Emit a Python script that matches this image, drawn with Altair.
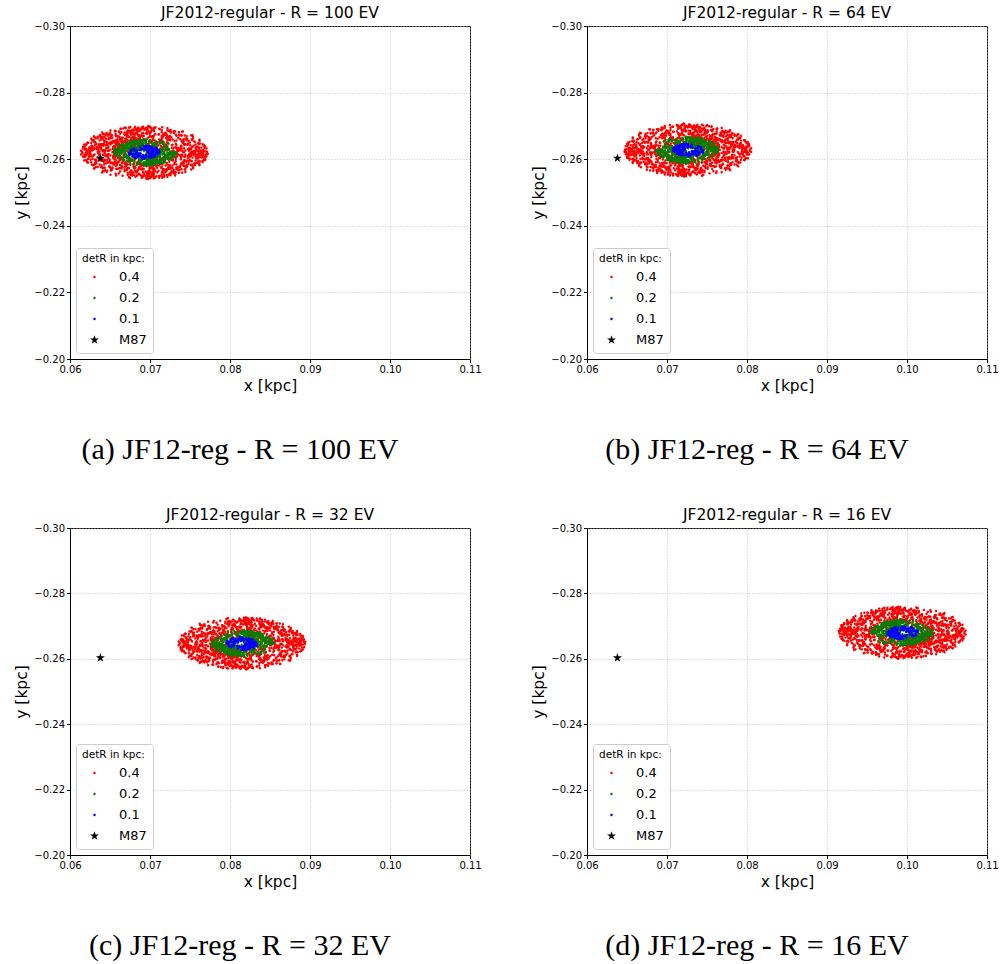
import altair as alt
import pandas as pd

# ---- panel texts ----
TITLES = ["JF2012-regular - R = 100 EV", "JF2012-regular - R = 64 EV",
          "JF2012-regular - R = 32 EV", "JF2012-regular - R = 16 EV"]
CAPTIONS = ["(a) JF12-reg - R = 100 EV", "(b) JF12-reg - R = 64 EV",
            "(c) JF12-reg - R = 32 EV", "(d) JF12-reg - R = 16 EV"]

# ---- values ----
CENTER_X = [0.0693, 0.0726, 0.0815, 0.0994]      # cloud centres [kpc]
CENTER_Y = [-0.2620, -0.2627, -0.2647, -0.2680]
LEVELS = ["0.4", "0.2", "0.1", "M87"]
RADII = [0.0080, 0.0040, 0.0020]                  # cloud radii [kpc]
M87_X = 0.0638
M87_Y = -0.2603
XTICKS = [0.06, 0.07, 0.08, 0.09, 0.10, 0.11]
YTICKS = [-0.30, -0.28, -0.26, -0.24, -0.22, -0.20]
COLORS = ["#ff0000", "#008000", "#0000ff", "#000000"]
# marker glyphs (unit box): a small dot and a five-pointed star
DOT = "M0.26,0A0.26,0.26,0,1,1,-0.26,0A0.26,0.26,0,1,1,0.26,0Z"
STAR = ("M0,-1L0.225,-0.309L0.951,-0.309L0.363,0.118L0.588,0.809L0,0.382"
        "L-0.588,0.809L-0.363,0.118L-0.951,-0.309L-0.225,-0.309Z")
SHAPES = [DOT, DOT, DOT, STAR]
MIRROR_X = [1, -1, 1, -1]
MIRROR_Y = [1, 1, -1, -1]

# hand-typed scatter offsets (percent of the cloud radius)
OX = [12,-57,83,-4,39,-91,66,-23,5,71,-38,94,-62,27,-15,48,-79,8,56,-44,
      -71,33,-9,87,-26,61,-53,18,-84,42,3,-67,75,-31,22,-96,50,-12,69,-40,
      35,-18,91,-73,6,-49,77,-2,58,-86,24,-61,13,80,-35,46,-8,-92,29,64,
      -55,16,-77,41,-29,98,-14,53,-66,9,73,-47,31,-88,60,-21,-3,85,-58,37,
      19,-82,47,-36,70,-11,25,-93,54,-6,88,-42,-17,63,-74,1,44,-28,79,-64,
      -45,68,-24,11,-89,36,-52,92,-7,57,-33,15,-70,43,-97,28,-13,81,-50,4,
      74,-39,2,-60,49,-19,86,-81,32,-1,65,-46,20,-87,52,-30,93,-65,10,-25,
      -10,55,-68,38,-95,23,-43,72,-16,84,-56,7,-78,45,-27,62,-90,34,-5,78,
      40,-72,26,-3,59,-37,-99,14,67,-48,30,-20,89,-63,17,-85,51,-41,76,-11,
      -32,90,-59,21,-8,47,-76,3,-51,82,-22,37,-94,58,-34,71,-14,25,-69,46,
      62,-26,-83,50,14,-42,79,-57,28,-7,95,-36,9,-75,41,-18,66,-48,-1,87,
      -63,5,44,-90,23,-15,70,-38,-80,56,-29,11,83,-54,35,-67,18,-4,61,-45,
      27,-51,-12,76,-69,39,-33,97,-58,16,-86,48,-24,7,-43,85,-20,53,-77,32,
      -4,64,-92,19,54,-64,-6,42,-71,89,-37,22,-53,75,0,-28,59,-83,13,-49,
      81,-15,36,-47,-24,68,-87,10,45,-60,26,-99,73,-35,-9,50,-65,15,92,-30,
      -56,29,-35,72,-81,6,61,-19,88,-44,-13,37,-73,55,-26,97,-52,31,-2,-90,
      47,-7,78,-66,16,-54,-28,84,-40,3,57,-88,21,-16,69,-45,-61,40,-97,8,
      -23,93,-47,2,-62,30,15,-79,51,-31,-95,74,-10,35,-68,9,86,-43,64,-18,
      7,-30,58,-85,43,-9,-76,24,-53,94,-21,49,-2,-66,33,-89,76,-12,-58,52,
      -79,41,-1,63,-40,86,-27,-48,12,-70,39,17,-56,80,-22,-5,46,-97,28,-36,
      58,-63,27,-14,90,-50,4,-33,74,-84,20,-41,65,-8,-91,38,-25,71,-54,11,
      -16,80,-45,33,-74,14,-94,60,-3,44,-65,99,-27,-39,18,-80,55,-6,24,-70]
OY = [-43,18,-7,65,-81,29,52,-36,90,-14,47,-68,3,76,-25,-92,11,59,-50,34,
      27,-74,61,-2,45,-38,83,-19,6,-57,92,31,-46,70,-11,15,-63,38,-88,22,
      -66,9,-31,54,-97,20,-5,73,-42,13,88,-27,58,-15,40,-79,25,-48,63,-8,
      51,-24,39,-85,16,-3,68,-55,30,94,-12,44,-71,7,-37,82,-60,19,-29,57,
      -18,46,-89,23,-6,72,-40,10,-76,35,-4,62,-53,-30,86,-21,49,-67,1,26,
      80,-33,14,-58,37,-91,67,-9,43,-26,98,-64,28,-17,2,-45,75,-13,56,-84,
      -3,59,-72,41,-20,86,-48,24,-65,50,-99,17,-36,66,-8,53,-28,8,-77,31,
      36,-93,55,-11,71,-49,12,-82,40,-35,21,78,-59,-2,64,-16,33,-70,48,-41,
      -61,4,-25,90,-44,27,-7,-87,52,16,-32,69,-19,45,-94,60,-3,37,-54,85,
      10,-50,73,-39,-80,3,36,-22,65,-67,47,-12,30,-86,56,-28,91,-5,18,-73,
      -29,83,-14,45,-57,20,-40,7,-95,62,-23,54,-73,31,-1,78,-46,12,-62,34,
      70,-17,29,-2,88,-52,15,-71,46,-9,39,-84,22,-34,63,-49,5,-90,41,-26,
      54,-38,1,80,-23,-62,33,-15,68,-45,17,-79,93,-6,42,-31,74,-56,27,-11,
      -95,31,-53,13,66,-9,-44,77,-30,57,-2,-68,38,-20,85,-50,8,-36,61,-13,
      21,-70,47,-26,-58,12,-83,39,-7,95,-42,25,-64,51,-33,-18,69,-81,4,44,
      -6,65,-37,81,-15,-99,50,-28,3,-61,73,-47,19,-10,-77,35,60,-24,90,-55,
      43,-12,-69,28,-91,55,-34,6,79,-51,-20,37,-5,84,-43,14,-66,48,-27,71,
      -74,24,9,-46,57,-18,92,-60,-13,40,-86,2,66,-39,29,-96,44,-8,-52,19,
      32,-97,63,-5,-27,81,-54,-41,11,-16,67,-33,48,-75,22,-1,-59,87,-36,6,
      -47,75,-21,-64,34,-12,59,-88,26,-4,53,-70,7,-30,96,-45,17,-62,38,-19,
      15,-35,84,-56,-8,42,-76,20,-49,63,-25,-2,77,-53,9,-83,31,-14,54,-92,
      60,-6,-40,23,-71,48,-17,36,-89,5,-58,71,-22,12,-37,89,-65,27,-10,45]

UNIT = [(x / 100, y / 100) for x, y in zip(OX, OY) if x * x + y * y <= 10000]
# the same typed offsets, also read turned a quarter and mirrored, to fill the clouds
UNIT_T = [(-y, x) for x, y in UNIT]
UNIT_M = [(x, -y) for x, y in UNIT]
SUBSETS = [UNIT + UNIT_T + UNIT_M, UNIT_T, UNIT[::3]]

W = 400
HEIGHTS = [333, 333, 327, 327]


def panel(i):
    rows = []
    for lev, r, sub in zip(LEVELS[:3], RADII, SUBSETS):
        for ux, uy in sub:
            rows.append({"x": CENTER_X[i] + MIRROR_X[i] * ux * r,
                         "y": CENTER_Y[i] + MIRROR_Y[i] * uy * r,
                         "detR": lev})
    rows.append({"x": M87_X, "y": M87_Y, "detR": "M87"})
    df = pd.DataFrame(rows)
    leg = alt.Legend(title="detR in kpc:")
    pts = alt.Chart(df).mark_point(filled=True, opacity=1, strokeWidth=0, size=90).encode(
        x=alt.X("x:Q", scale=alt.Scale(domain=[0.06, 0.11], nice=False, zero=False),
                axis=alt.Axis(values=XTICKS, format=".2f", title="x [kpc]")),
        y=alt.Y("y:Q", scale=alt.Scale(domain=[-0.30, -0.20], nice=False, zero=False, reverse=True),
                axis=alt.Axis(values=YTICKS, format=".2f", title="y [kpc]")),
        color=alt.Color("detR:N", scale=alt.Scale(domain=LEVELS, range=COLORS), legend=leg),
        shape=alt.Shape("detR:N", scale=alt.Scale(domain=LEVELS, range=SHAPES), legend=leg),
    )
    cap = alt.Chart(pd.DataFrame({"t": [CAPTIONS[i]]})).mark_text(
        font="Liberation Serif", fontSize=30, align="center", baseline="middle", color="black"
    ).encode(x=alt.value(170), y=alt.value(HEIGHTS[i] + 91), text="t:N")
    return alt.layer(pts, cap).properties(
        width=W, height=HEIGHTS[i],
        title=alt.TitleParams(TITLES[i], fontSize=15.5, font="DejaVu Sans", fontWeight="normal",
                              color="black", anchor="middle", offset=0),
    )


chart = alt.concat(
    *[panel(i) for i in range(4)], columns=2, spacing={"row": 169, "column": 117}, bounds="flush"
).resolve_scale(
    x="independent", y="independent", color="independent", shape="independent"
).properties(
    padding={"left": 14, "top": 5, "right": 0, "bottom": 0}
).configure_view(
    stroke="black", strokeWidth=1
).configure_axis(
    labelFont="DejaVu Sans", labelFontSize=10, labelColor="black", labelFlush=False, labelPadding=2,
    titleFont="DejaVu Sans", titleFontSize=15.5, titleFontWeight="normal", titleColor="black",
    titlePadding=4, tickColor="black", tickSize=3.5, tickWidth=1, domainColor="black", domainWidth=1,
    grid=True, gridColor="#b0b0b0", gridDash=[1, 2], gridWidth=0.8,
).configure_legend(
    orient="bottom-left", offset=6, padding=6, strokeColor="#cccccc", fillColor="white",
    cornerRadius=3, titleFont="DejaVu Sans", titleFontSize=10.5, titleFontWeight="normal",
    titleColor="black", labelFont="DejaVu Sans", labelFontSize=13, labelColor="black",
    rowPadding=7, titlePadding=6, symbolOffset=6, labelOffset=18, symbolStrokeWidth=0,
    symbolSize=90,
)

chart.save("out.html", embed_options={"renderer": "svg", "actions": False})
